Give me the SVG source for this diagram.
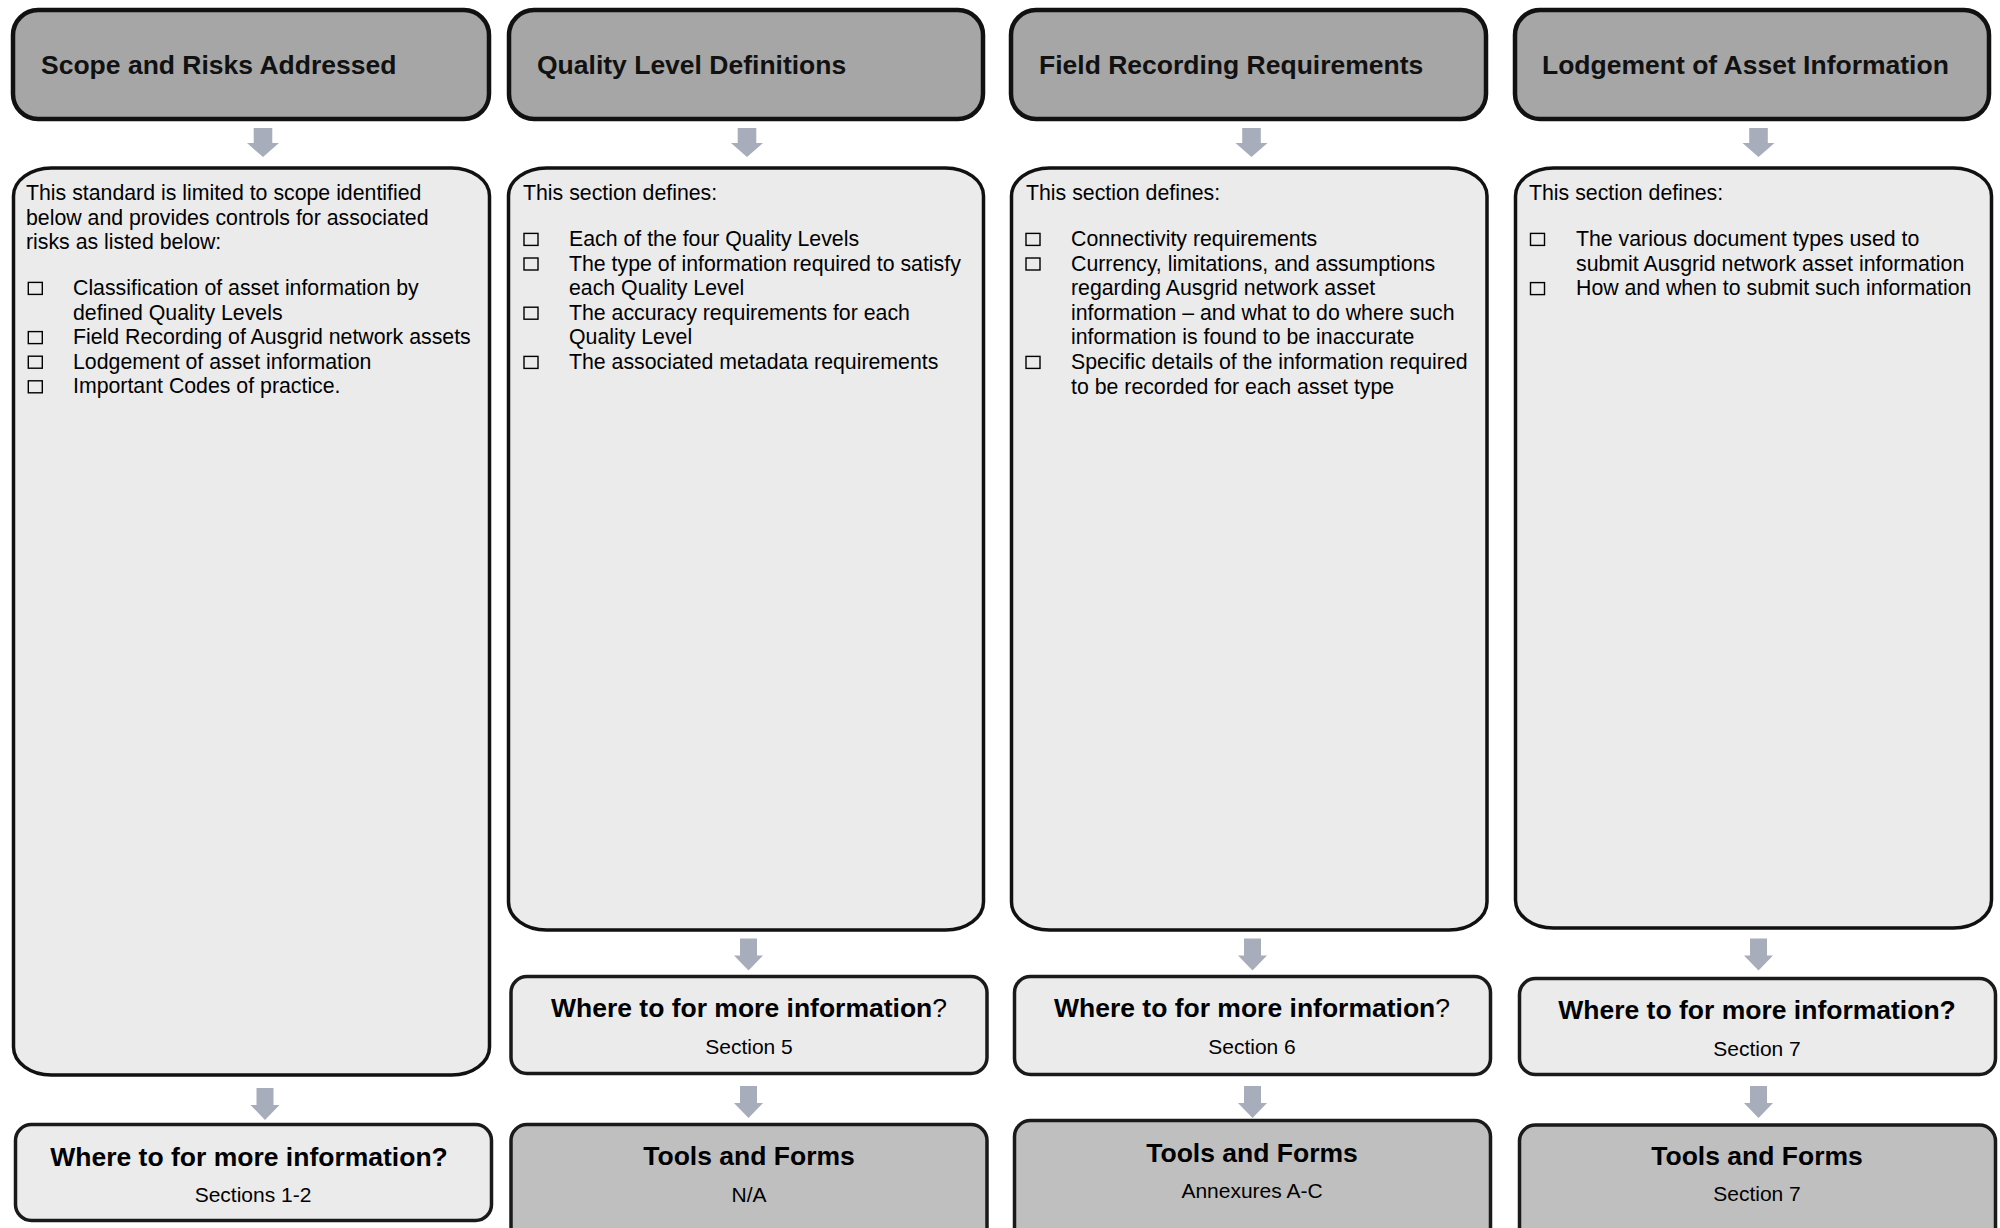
<svg xmlns="http://www.w3.org/2000/svg" xmlns:xlink="http://www.w3.org/1999/xlink" width="2000" height="1228" viewBox="0 0 2000 1228">
<style>
  .hdr { fill: #a6a6a6; stroke: #111; stroke-width: 4.5; }
  .body { fill: #ebebeb; stroke: #111; stroke-width: 3.5; }
  .where { fill: #ebebeb; stroke: #1a1a1a; stroke-width: 3.5; }
  .tools { fill: #bfbfbf; stroke: #1a1a1a; stroke-width: 3.5; }
  .t { font-family: "Liberation Sans", Arial, sans-serif; fill: #000; }
  .title { font-size: 26.5px; font-weight: bold; fill: #111; }
  .txt { font-size: 21.3px; }
  .big { font-size: 26.5px; font-weight: bold; text-anchor: middle; }
  .sub { font-size: 21px; text-anchor: middle; }
  .cb { fill: none; stroke: #000; stroke-width: 1.4; }
  .arrow { fill: #a8adbb; }
</style>
<defs>
  <path id="arrowA" d="M-9.3,0 H9.3 V15 H16 L0,29 L-16,15 H-9.3 Z"/>
  <path id="arrowB" d="M-8.5,0 H8.5 V17 H14.5 L0,32 L-14.5,17 H-8.5 Z"/>
</defs>

<!-- Column 1 -->
<g id="hdr1">
  <rect class="hdr" x="13" y="10" width="476" height="109" rx="25" ry="25"/>
  <text class="t title" x="41" y="74">Scope and Risks Addressed</text>
</g>
<g id="body1">
  <rect class="body" x="13.5" y="168" width="476" height="907" rx="38" ry="28"/>
  <text class="t txt" x="26" y="200">This standard is limited to scope identified</text>
  <text class="t txt" x="26" y="224.6">below and provides controls for associated</text>
  <text class="t txt" x="26" y="249.2">risks as listed below:</text>
  <rect class="cb" x="28.3" y="282.4" width="14" height="12"/>
  <text class="t txt" x="73" y="295">Classification of asset information by</text>
  <text class="t txt" x="73" y="319.6">defined Quality Levels</text>
  <rect class="cb" x="28.3" y="331.6" width="14" height="12"/>
  <text class="t txt" x="73" y="344.2">Field Recording of Ausgrid network assets</text>
  <rect class="cb" x="28.3" y="356.2" width="14" height="12"/>
  <text class="t txt" x="73" y="368.8">Lodgement of asset information</text>
  <rect class="cb" x="28.3" y="380.8" width="14" height="12"/>
  <text class="t txt" x="73" y="393.4">Important Codes of practice.</text>
</g>
<g id="where1">
  <rect class="where" x="15.5" y="1124.5" width="476" height="96" rx="16" ry="16"/>
  <text class="t big" x="249" y="1166">Where to for more information?</text>
  <text class="t sub" x="253" y="1202">Sections 1-2</text>
</g>

<!-- Column 2 -->
<g id="hdr2">
  <rect class="hdr" x="509" y="10" width="474" height="109" rx="25" ry="25"/>
  <text class="t title" x="537" y="74">Quality Level Definitions</text>
</g>
<g id="body2">
  <rect class="body" x="508.5" y="168" width="475" height="762" rx="38" ry="28"/>
  <text class="t txt" x="523" y="200">This section defines:</text>
  <rect class="cb" x="524" y="233.4" width="14" height="12"/>
  <text class="t txt" x="569" y="246">Each of the four Quality Levels</text>
  <rect class="cb" x="524" y="258" width="14" height="12"/>
  <text class="t txt" x="569" y="270.6">The type of information required to satisfy</text>
  <text class="t txt" x="569" y="295.2">each Quality Level</text>
  <rect class="cb" x="524" y="307.2" width="14" height="12"/>
  <text class="t txt" x="569" y="319.8">The accuracy requirements for each</text>
  <text class="t txt" x="569" y="344.4">Quality Level</text>
  <rect class="cb" x="524" y="356.4" width="14" height="12"/>
  <text class="t txt" x="569" y="369">The associated metadata requirements</text>
</g>
<g id="where2">
  <rect class="where" x="511" y="976.5" width="476" height="97" rx="16" ry="16"/>
  <text class="t big" x="749" y="1017">Where to for more information<tspan font-weight="normal">?</tspan></text>
  <text class="t sub" x="749" y="1054">Section 5</text>
</g>
<g id="tools2">
  <rect class="tools" x="511" y="1124.5" width="476" height="130" rx="16" ry="16"/>
  <text class="t big" x="749" y="1165">Tools and Forms</text>
  <text class="t sub" x="749" y="1202">N/A</text>
</g>

<!-- Column 3 -->
<g id="hdr3">
  <rect class="hdr" x="1011" y="10" width="475" height="109" rx="25" ry="25"/>
  <text class="t title" x="1039" y="74">Field Recording Requirements</text>
</g>
<g id="body3">
  <rect class="body" x="1011.5" y="168" width="475.5" height="762" rx="38" ry="28"/>
  <text class="t txt" x="1026" y="200">This section defines:</text>
  <rect class="cb" x="1026" y="233.4" width="14" height="12"/>
  <text class="t txt" x="1071" y="246">Connectivity requirements</text>
  <rect class="cb" x="1026" y="258" width="14" height="12"/>
  <text class="t txt" x="1071" y="270.6">Currency, limitations, and assumptions</text>
  <text class="t txt" x="1071" y="295.2">regarding Ausgrid network asset</text>
  <text class="t txt" x="1071" y="319.8">information – and what to do where such</text>
  <text class="t txt" x="1071" y="344.4">information is found to be inaccurate</text>
  <rect class="cb" x="1026" y="356.4" width="14" height="12"/>
  <text class="t txt" x="1071" y="369">Specific details of the information required</text>
  <text class="t txt" x="1071" y="393.6">to be recorded for each asset type</text>
</g>
<g id="where3">
  <rect class="where" x="1014.5" y="976.5" width="476" height="98" rx="16" ry="16"/>
  <text class="t big" x="1252" y="1017">Where to for more information<tspan font-weight="normal">?</tspan></text>
  <text class="t sub" x="1252" y="1054">Section 6</text>
</g>
<g id="tools3">
  <rect class="tools" x="1014.5" y="1120.5" width="476" height="130" rx="16" ry="16"/>
  <text class="t big" x="1252" y="1162">Tools and Forms</text>
  <text class="t sub" x="1252" y="1198">Annexures A-C</text>
</g>

<!-- Column 4 -->
<g id="hdr4">
  <rect class="hdr" x="1515" y="10" width="474" height="109" rx="25" ry="25"/>
  <text class="t title" x="1542" y="74">Lodgement of Asset Information</text>
</g>
<g id="body4">
  <rect class="body" x="1515.5" y="168" width="476" height="760" rx="38" ry="28"/>
  <text class="t txt" x="1529" y="200">This section defines:</text>
  <rect class="cb" x="1530.5" y="233.4" width="14" height="12"/>
  <text class="t txt" x="1576" y="246">The various document types used to</text>
  <text class="t txt" x="1576" y="270.6">submit Ausgrid network asset information</text>
  <rect class="cb" x="1530.5" y="282.6" width="14" height="12"/>
  <text class="t txt" x="1576" y="295.2">How and when to submit such information</text>
</g>
<g id="where4">
  <rect class="where" x="1519.5" y="978.5" width="476" height="96" rx="16" ry="16"/>
  <text class="t big" x="1757" y="1019">Where to for more information?</text>
  <text class="t sub" x="1757" y="1056">Section 7</text>
</g>
<g id="tools4">
  <rect class="tools" x="1519.5" y="1125" width="476" height="130" rx="16" ry="16"/>
  <text class="t big" x="1757" y="1165">Tools and Forms</text>
  <text class="t sub" x="1757" y="1201">Section 7</text>
</g>

<!-- Connectors -->
<g id="connectors" class="arrow">
  <use xlink:href="#arrowA" href="#arrowA" transform="translate(263,128)"/>
  <use xlink:href="#arrowA" href="#arrowA" transform="translate(747,128)"/>
  <use xlink:href="#arrowA" href="#arrowA" transform="translate(1251.5,128)"/>
  <use xlink:href="#arrowA" href="#arrowA" transform="translate(1758.5,128)"/>
  <use xlink:href="#arrowB" href="#arrowB" transform="translate(265,1088)"/>
  <use xlink:href="#arrowB" href="#arrowB" transform="translate(748.5,938.5)"/>
  <use xlink:href="#arrowB" href="#arrowB" transform="translate(1252.5,938.5)"/>
  <use xlink:href="#arrowB" href="#arrowB" transform="translate(1758.5,938.5)"/>
  <use xlink:href="#arrowB" href="#arrowB" transform="translate(748.5,1086)"/>
  <use xlink:href="#arrowB" href="#arrowB" transform="translate(1252.5,1086)"/>
  <use xlink:href="#arrowB" href="#arrowB" transform="translate(1758.5,1086)"/>
</g>
</svg>
